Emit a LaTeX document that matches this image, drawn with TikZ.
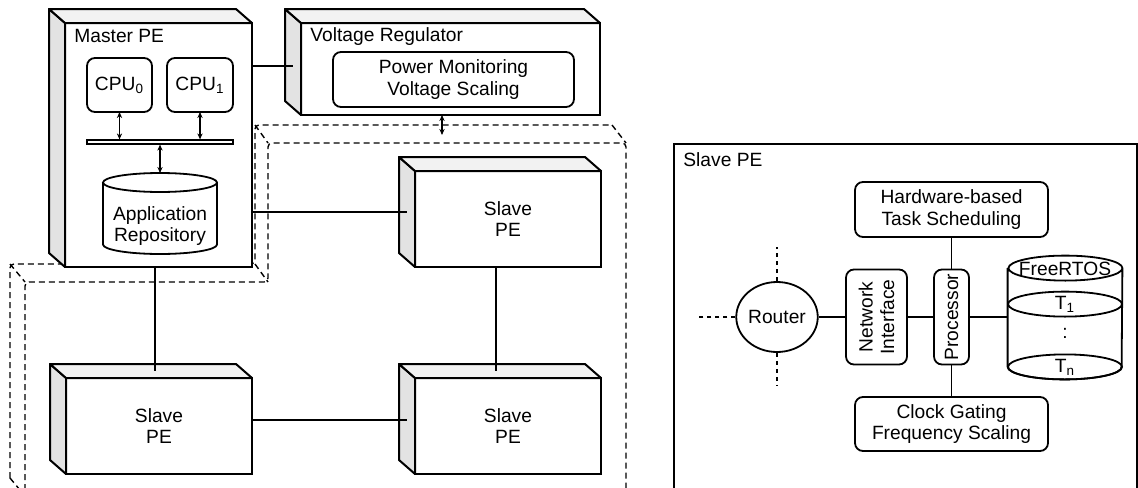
\documentclass[tikz,border=0pt]{standalone}
\usepackage{fontspec}
\setmainfont{Liberation Sans}
\usetikzlibrary{positioning,arrows.meta,shapes.geometric}

\tikzset{
  pe/.style={draw, fill=white, line width=1pt, inner sep=0pt, outer sep=0pt, align=center},
  blk/.style={draw, fill=white, line width=0.9pt, rounded corners=4pt, inner sep=0pt, outer sep=0pt, align=center},
  sideface/.style={draw, fill=black!11, line width=1pt, line join=round},
  topface/.style={draw, fill=black!5, line width=1pt, line join=round},
  conn/.style={line width=0.8pt},
  dbus/.style={line width=0.6pt, {Stealth[length=3pt,width=2.6pt]}-{Stealth[length=3pt,width=2.6pt]}},
  region/.style={line width=0.7pt, dash pattern=on 3pt off 2pt, rounded corners=2pt},
  stub/.style={line width=0.7pt, dash pattern=on 2pt off 2pt},
  cyl/.style={line width=0.9pt},
}

\begin{document}
\begin{tikzpicture}[x=0.5pt, y=-0.5pt, font=\fontsize{9.6}{10.8}\selectfont]
                \useasboundingbox (0,0) rectangle (1138,487);

                % dashed region behind the processing elements
                \draw[region] (25,500) -- (25,282) -- (268,282) -- (268,143) -- (626,143) -- (626,500);
                \draw[region] (10,478) -- (10,264) -- (255,264) -- (255,125) -- (612,125);
                \draw[region] (10,264) -- (25,282) (255,125) -- (268,143) (612,125) -- (626,143)
                    (255,264) -- (268,282) (10,478) -- (25,496);

                \node[pe, minimum width=93.5pt, minimum height=122pt] (master) at (158.5,145) {};
                \node[pe, minimum width=149.5pt, minimum height=46pt] (vreg) at (450.5,69) {};
                \node[pe, minimum width=93pt, minimum height=48pt] (slaveTR) at (508,219) {Slave\\PE};
                \node[pe, minimum width=93pt, minimum height=48pt] (slaveBL) at (159,426) {Slave\\PE};
                \node[pe, minimum width=93pt, minimum height=48pt] (slaveBR) at (508,426) {Slave\\PE};

                \foreach \n in {master,vreg,slaveTR,slaveBL,slaveBR} {
                    \filldraw[sideface] (\n.north west) -- ++(-8pt,7pt) -- ([shift={(-8pt,7pt)}]\n.south west) -- (\n.south west) -- cycle;
                    \filldraw[topface] (\n.north west) -- ++(-8pt,7pt) -- ([shift={(-8pt,7pt)}]\n.north east) -- (\n.north east) -- cycle;
                }

                \node[anchor=base west, inner sep=0pt] (mastertitle) at (74,42) {Master PE};
                \node[anchor=base west, inner sep=0pt] (vregtitle) at (310,41) {Voltage Regulator};

                \node[blk, minimum width=32.5pt, minimum height=27pt] (cpu0) at (119.5,85) {CPU\textsubscript{0}};
                \node[blk, minimum width=33pt, minimum height=27pt, right=7.5pt of cpu0] (cpu1) {CPU\textsubscript{1}};
                \node[draw, fill=white, line width=0.6pt, inner sep=0pt, minimum width=73pt, minimum height=2pt] (bus) at (160,142) {};
                \node[blk, minimum width=120.5pt, minimum height=27.5pt] (pwr) at (453.5,79.5) {Power Monitoring\\Voltage Scaling};

                % repository cylinder
                \draw[cyl] (103,182.5) -- (103,244.5) arc[start angle=180, end angle=360, x radius=28.5pt, y radius=4.75pt]
                    -- (217,182.5) arc[start angle=0, end angle=360, x radius=28.5pt, y radius=4.75pt];
                \node[align=center] (repo) at (160,226) {Application\\Repository};
                \coordinate (repotop) at (160,173);

                \draw[dbus] (cpu0) -- (cpu0 |- bus.north);
                \draw[dbus] (cpu1) -- (cpu1 |- bus.north);
                \draw[dbus] (bus) -- (repotop);
                \coordinate (vtap) at (442,135);
                \draw[dbus] (vtap |- vreg.south) -- (vtap);

                \draw[conn] ([yshift=1.5pt]master.east |- vreg.west) -- ([xshift=-4pt,yshift=1.5pt]vreg.west);
                \draw[conn] ([yshift=3.5pt]slaveTR.west -| master.east) -- ([xshift=-4pt,yshift=3.5pt]slaveTR.west);
                \draw[conn] ([yshift=3pt]slaveBL.east) -- ([xshift=-4pt,yshift=3pt]slaveBR.west);
                \draw[conn] ([xshift=-1.75pt]master.south) -- ([xshift=-1.75pt,yshift=3.5pt]master.south |- slaveBL.north);
                \draw[conn] ([xshift=-6pt]slaveTR.south) -- ([xshift=-6pt,yshift=3.5pt]slaveBR.north);

                % detail of one slave PE
                \draw[line width=1pt] (674,144) rectangle (1137,520);
                \node[anchor=base west, inner sep=0pt] (slavetitle) at (683,166) {Slave PE};

                \node[blk, minimum width=96.5pt, minimum height=27.5pt] (hwsched) at (951.5,209.5) {Hardware-based\\Task Scheduling};
                \node[blk, minimum width=96.5pt, minimum height=27pt] (clkgate) at (951.5,424) {Clock Gating\\Frequency Scaling};
                \node[draw, ellipse, line width=0.9pt, inner sep=0pt, minimum width=40.5pt, minimum height=35pt] (router) at (777,317) {Router};
                \node[blk, rotate=90, minimum width=47.5pt, minimum height=30.5pt] (netif) at (876.5,317) {Network\\Interface};
                \node[blk, rotate=90, minimum width=47.5pt, minimum height=17.5pt] (proc) at (951.5,317) {Processor};
                \node[inner sep=0pt, minimum width=57pt, minimum height=61.5pt] (rtos) at (1065,317.5) {};

                \draw[cyl] ([yshift=-6.25pt]rtos.north west) -- ([yshift=6.25pt]rtos.south west)
                    arc[start angle=180, end angle=360, x radius=28.5pt, y radius=6.25pt]
                    -- ([yshift=-6.25pt]rtos.north east) arc[start angle=0, end angle=360, x radius=28.5pt, y radius=6.25pt];
                \draw[cyl] ([yshift=-24.25pt]rtos.north) ellipse[x radius=28.5pt, y radius=6.25pt];
                \draw[cyl] ([yshift=6.25pt]rtos.south) ellipse[x radius=28.5pt, y radius=6.25pt];
                \node (freertos) at ([yshift=-6.5pt]rtos.north) {FreeRTOS};
                \node (task1) at ([yshift=-24.25pt]rtos.north) {T\textsubscript{1}};
                \node (taskdots) at (1065,333) {:};
                \node (taskn) at ([yshift=6.25pt]rtos.south) {T\textsubscript{n}};

                \draw[conn] (router) -- (netif);
                \draw[conn] (netif) -- (proc);
                \draw[conn] (proc) -- (rtos.west |- proc);
                \draw[conn] (proc) -- (hwsched);
                \draw[conn] (proc) -- (clkgate);

                \coordinate (stubW) at (699,317);
                \coordinate (stubN) at (777,247);
                \coordinate (stubS) at (777,386);
                \draw[stub] (router) -- (stubW);
                \draw[stub] (router) -- (stubN);
                \draw[stub] (router) -- (stubS);
\end{tikzpicture}
\end{document}
